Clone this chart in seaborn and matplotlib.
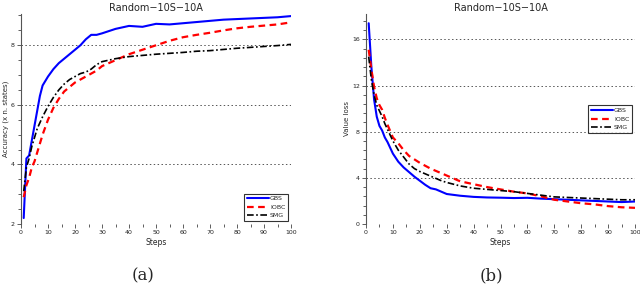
import numpy as np
import pandas as pd
import matplotlib
matplotlib.use("Agg")
import matplotlib.pyplot as plt
from matplotlib.ticker import MultipleLocator
import seaborn as sns

# values
steps = [1, 2, 3, 4, 5, 6, 7, 8, 10, 12, 14, 16, 18, 20, 22, 24, 26, 28, 30,
         35, 40, 45, 50, 55, 60, 65, 70, 75, 80, 85, 90, 95, 100]

acc_gbs = [2.2, 4.2, 4.3, 4.8, 5.3, 5.8, 6.3, 6.65, 6.95, 7.2, 7.4, 7.55, 7.7, 7.85,
           8.0, 8.2, 8.35, 8.35, 8.4, 8.55, 8.65, 8.62, 8.72, 8.7, 8.74, 8.78,
           8.82, 8.86, 8.88, 8.9, 8.92, 8.94, 8.98]
acc_iobc = [2.9, 3.3, 3.55, 3.9, 4.1, 4.4, 4.7, 5.0, 5.5, 5.9, 6.2, 6.45, 6.6, 6.75,
            6.85, 6.95, 7.05, 7.15, 7.3, 7.5, 7.7, 7.85, 8.0, 8.15, 8.27, 8.35,
            8.42, 8.5, 8.57, 8.62, 8.66, 8.7, 8.77]
acc_smg = [3.1, 3.9, 4.2, 4.6, 4.9, 5.2, 5.4, 5.6, 5.95, 6.25, 6.5, 6.7, 6.85, 6.95,
           7.05, 7.1, 7.2, 7.35, 7.45, 7.55, 7.62, 7.66, 7.7, 7.73, 7.76, 7.8,
           7.82, 7.86, 7.9, 7.93, 7.96, 7.99, 8.03]

loss_gbs = [17.4, 13.6, 10.8, 9.3, 8.5, 8.1, 7.5, 7.1, 6.1, 5.4, 4.9, 4.5, 4.1, 3.75,
            3.4, 3.1, 3.0, 2.8, 2.6, 2.45, 2.35, 2.3, 2.28, 2.25, 2.27, 2.2, 2.15,
            2.1, 2.05, 2.0, 1.95, 1.9, 1.95]
loss_iobc = [15.1, 13.4, 11.9, 10.9, 10.3, 9.9, 9.2, 8.6, 7.5, 7.0, 6.4, 5.9, 5.6,
             5.3, 5.05, 4.8, 4.6, 4.4, 4.2, 3.7, 3.45, 3.2, 3.0, 2.8, 2.65, 2.4,
             2.1, 1.95, 1.8, 1.7, 1.55, 1.45, 1.4]
loss_smg = [14.5, 12.5, 11.2, 10.3, 9.8, 9.3, 8.7, 8.2, 7.2, 6.4, 5.8, 5.2, 4.8,
            4.55, 4.35, 4.15, 3.95, 3.75, 3.6, 3.3, 3.1, 3.0, 2.9, 2.8, 2.65, 2.5,
            2.35, 2.3, 2.25, 2.2, 2.15, 2.1, 2.1]

methods = ["GBS", "IOBC", "SMG"]
colors = ["#0000ff", "#ff0000", "#000000"]
styles = ["-", (0, (3, 2)), (0, (4, 1.5, 1, 1.5))]
widths = [1.5, 1.6, 1.2]

sns.set_style("ticks")
plt.rcParams["font.family"] = ["DejaVu Sans"]

fig = plt.figure(figsize=(6.4, 2.93), dpi=100)
ax1 = fig.add_axes([21 / 640, 1 - 224 / 293, 270 / 640, 210 / 293])
ax2 = fig.add_axes([366 / 640, 1 - 224 / 293, 269 / 640, 210 / 293])


def draw(ax, series, ylim, major, minor, ylabel, legend_loc):
    for name, vals, c, ls, lw in zip(methods, series, colors, styles, widths):
        df = pd.DataFrame({"Steps": steps, "v": vals})
        sns.lineplot(data=df, x="Steps", y="v", ax=ax, color=c, linestyle=ls,
                     linewidth=lw, label=name)
    ax.set_xlim(0, 100)
    ax.set_ylim(*ylim)
    ax.xaxis.set_major_locator(MultipleLocator(10))
    ax.xaxis.set_minor_locator(MultipleLocator(5))
    ax.yaxis.set_major_locator(MultipleLocator(major))
    ax.yaxis.set_minor_locator(MultipleLocator(minor))
    ax.tick_params(which="both", direction="out", labelsize=4.5, colors="#444444",
                   labelcolor="#222222", width=0.6, pad=1.5)
    ax.tick_params(which="major", length=3)
    ax.tick_params(which="minor", length=2)
    ax.grid(axis="y", which="major", linestyle=(0, (1.5, 2.5)), color="#555555",
            linewidth=0.7)
    for s in ["top", "right"]:
        ax.spines[s].set_visible(False)
    ax.spines["left"].set_color("#555555")
    ax.spines["bottom"].set_visible(False)
    ax.set_xlabel("Steps", fontsize=5.5, labelpad=2)
    ax.set_ylabel(ylabel, fontsize=5, labelpad=1)
    ax.set_title("Random\u221210S\u221210A", fontsize=7, pad=2)
    leg = ax.legend(loc=legend_loc, fontsize=4.5, frameon=True, fancybox=False,
                    handlelength=3.5, borderpad=0.4, labelspacing=0.5,
                    handletextpad=0.2)
    leg.get_frame().set_edgecolor("black")
    leg.get_frame().set_linewidth(0.8)


draw(ax1, [acc_gbs, acc_iobc, acc_smg], (2, 9.05), 2, 0.5,
     "Accuracy (x n. states)", "lower right")
draw(ax2, [loss_gbs, loss_iobc, loss_smg], (0, 18.2), 4, 0.8,
     "Value loss", "center right")

fig.text(143 / 640, 1 - 276 / 293, "(a)", fontsize=12, family="DejaVu Serif",
         ha="center", va="center")
fig.text(491 / 640, 1 - 276 / 293, "(b)", fontsize=12, family="DejaVu Serif",
         ha="center", va="center")

plt.savefig("out.png", dpi=100)
